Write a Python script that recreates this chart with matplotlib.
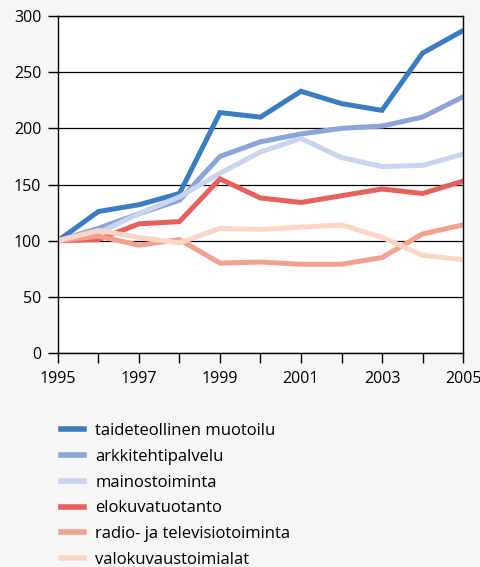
import matplotlib
matplotlib.use('Agg')
from matplotlib import pyplot as plt

plt.rcParams['font.family'] = ['Open Sans', 'DejaVu Sans']

years = list(range(1995, 2006))

taide = [100, 126, 132, 142, 214, 210, 233, 222, 216, 267, 287]
arkki = [100, 111, 124, 136, 175, 188, 195, 200, 202, 210, 228]
mainos = [100, 107, 124, 139, 160, 179, 191, 174, 166, 167, 177]
elokuva = [100, 101, 115, 117, 155, 138, 134, 140, 146, 142, 153]
radio = [100, 104, 96, 101, 80, 81, 79, 79, 85, 106, 114]
valokuva = [100, 109, 103, 98, 111, 110, 112, 114, 103, 87, 83]

labels = ['taideteollinen muotoilu', 'arkkitehtipalvelu', 'mainostoiminta',
          'elokuvatuotanto', 'radio- ja televisiotoiminta', 'valokuvaustoimialat']
series = [taide, arkki, mainos, elokuva, radio, valokuva]
colors = ['#3b7dc4', '#8aa5d9', '#c9d4ee', '#e9605a', '#f2a28c', '#fbd6c6']

bg = '#f7f6f6'
fig = plt.figure(figsize=(4.8, 5.67), dpi=100, facecolor=bg)
ax = fig.add_axes([0.1208, 0.3774, 0.8438, 0.5944])
ax.set_facecolor('white')

for vals, c, lab in zip(series, colors, labels):
    ax.plot(years, vals, color=c, lw=3.6, label=lab, solid_joinstyle='miter')

ax.set_xlim(1995, 2005)
ax.set_ylim(0, 300)
ax.set_yticks(range(0, 301, 50))
ax.set_xticks(years)
ax.set_xticklabels([str(y) if y % 2 == 1 else '' for y in years])
ax.yaxis.grid(True, color='black', lw=0.9)
ax.set_axisbelow(True)
for s in ax.spines.values():
    s.set_linewidth(1.0)
ax.tick_params(direction='out', length=7, width=1, labelsize=11.5, colors='black')
ax.tick_params(axis='x', pad=6)
ax.tick_params(axis='y', pad=5)

# legend below the plot, one entry per row
fig.legend(loc='upper left', bbox_to_anchor=(0.127, 0.254), frameon=False,
           fontsize=12, handlelength=1.4, handletextpad=0.66, labelspacing=0.59,
           borderpad=0, borderaxespad=0)
for line in fig.legends[0].get_lines():
    line.set_linewidth(4)

fig.savefig('out.png', dpi=100, facecolor=bg)
